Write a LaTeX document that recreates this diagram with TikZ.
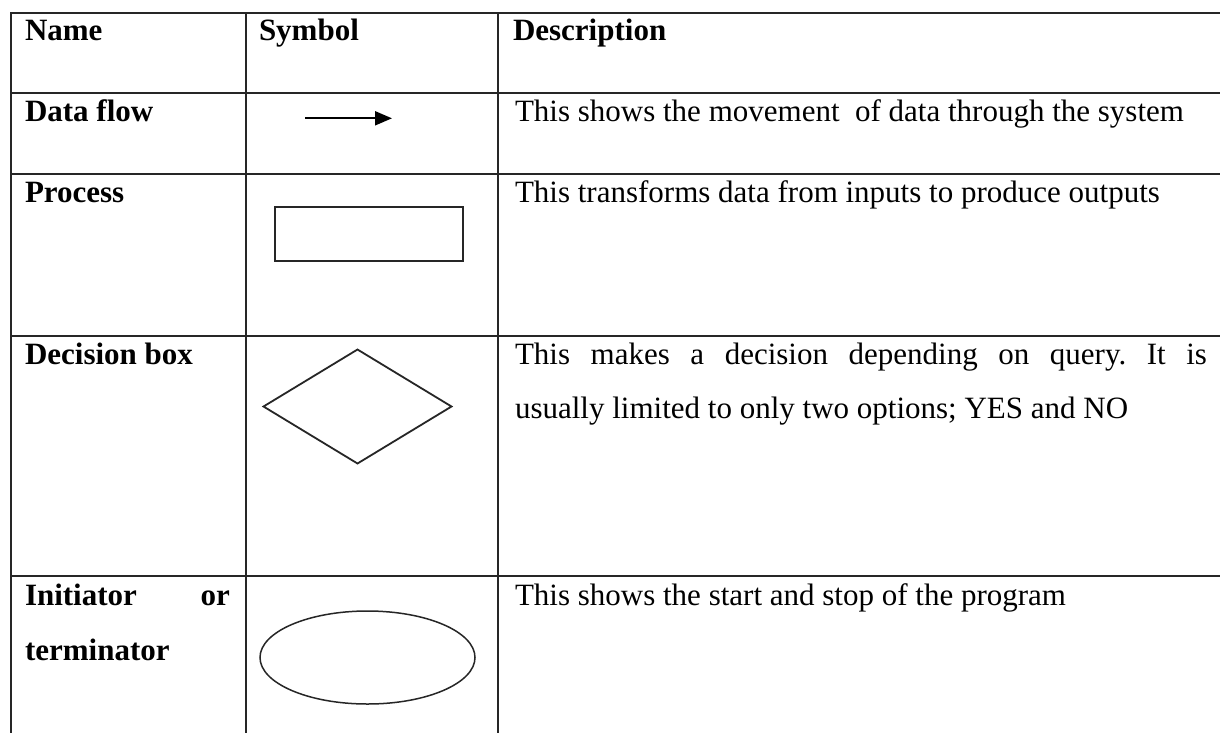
\documentclass[tikz,border=0pt]{standalone}
\usepackage{fontspec}
\setmainfont{Liberation Serif}
\usetikzlibrary{shapes.geometric, arrows.meta}
\frenchspacing
\begin{document}
\begin{tikzpicture}[x = 1pt, y = -1pt,
  every node/.style = {inner sep = 0pt, outer sep = 0pt, font = \fontsize{31}{54}\selectfont},
  head/.style = {anchor = base west, font = \fontsize{31}{55}\selectfont\bfseries},
  desc/.style = {anchor = base west, text width = 692pt, align = justify},
  rule/.style = {line width = 2pt, line cap = rect, black!85},
  symbol/.style = {draw, line width = 1.8pt, black!85}]
  \useasboundingbox (0,0) rectangle (1220,732);
  \fill[white] (0,0) rectangle (1220,732);
  \foreach \y in {12.5, 93, 174, 336, 576}
    \draw[rule] (11,\y) -- (1221,\y);
  \foreach \x in {11, 245.5, 498}
    \draw[rule] (\x,12.5) -- (\x,733);
  \node[head] (name) at (25,40.5) {Name};
  \node[head] (symbol) at (259,40.5) {Symbol};
  \node[head] (description) at (513,40.5) {Description};
  \node[head] (dataflow) at (25,121.5) {Data flow};
  \node[head] (process) at (25,202.5) {Process};
  \node[head] (decision) at (25,364) {Decision box};
  \node[head, text width = 205pt, align = justify] (terminator) at (25,605) {Initiator or\linebreak terminator};
  \node[desc] (dataflowtext) at (515,121.5) {This shows the movement\ \ of data through the system};
  \node[desc] (processtext) at (515,202.5) {This transforms data from inputs to produce outputs};
  \node[desc] (decisiontext) at (515,364) {This makes a decision depending on query. It is\linebreak usually limited to only two options; YES and NO};
  \node[desc] (terminatortext) at (515,605) {This shows the start and stop of the program};
  \coordinate (flowtail) at (305,118.3);
  \coordinate (flowhead) at (392,118.3);
  \draw[line width = 2pt, -{Triangle[length = 17pt, width = 14pt]}] (flowtail) -- (flowhead);
  \node[symbol, rectangle, minimum width = 188pt, minimum height = 54pt] (processbox) at (369,234) {};
  \node[symbol, diamond, minimum width = 188pt, minimum height = 114pt] (decisionbox) at (357.5,406.5) {};
  \node[symbol, ellipse, line width = 1.5pt, minimum width = 215pt, minimum height = 93pt] (terminatorshape) at (367.5,657.5) {};
\end{tikzpicture}
\end{document}
